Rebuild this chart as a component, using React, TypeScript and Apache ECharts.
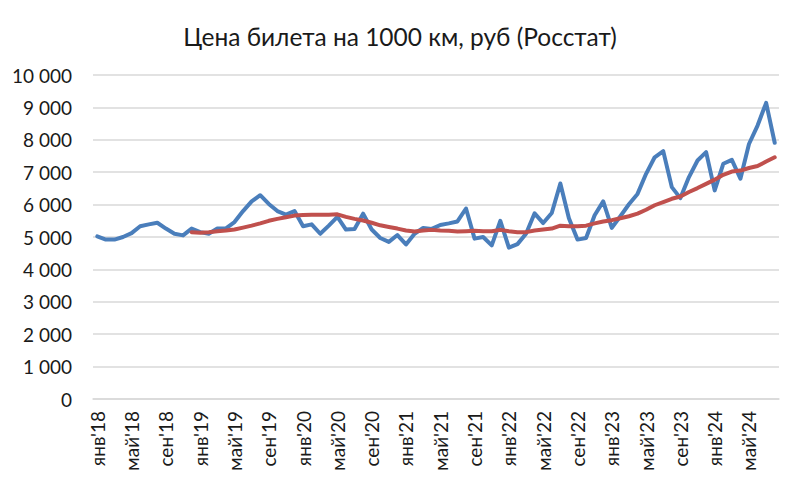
import React, { useEffect, useRef } from "react";
import * as echarts from "echarts";

const monthNames = ["янв", "фев", "мар", "апр", "май", "июн", "июл", "авг", "сен", "окт", "ноя", "дек"];
const years = ["18", "19", "20", "21", "22", "23", "24"];
const monthCount = 80;
const categories: string[] = [];
for (const y of years) for (const m of monthNames) categories.push(`${m}'${y}`);
const cats = categories.slice(0, monthCount);

const priceSeries = [
  5020, 4920, 4920, 5000, 5120, 5330, 5390, 5440, 5260, 5100, 5050, 5260,
  5150, 5100, 5260, 5270, 5460, 5800, 6100, 6290, 6020, 5800, 5690, 5800,
  5330, 5390, 5100, 5350, 5620, 5230, 5250, 5720, 5230, 4970, 4850, 5060,
  4770, 5100, 5280, 5250, 5370, 5420, 5480, 5880, 4950, 5000, 4740, 5500,
  4670, 4780, 5100, 5730, 5430, 5740, 6650, 5580, 4920, 4970, 5670, 6100,
  5280, 5640, 6010, 6330, 6950, 7460, 7650, 6540, 6200, 6850, 7360, 7620,
  6440, 7260, 7380, 6800, 7870, 8440, 9140, 7910,
];

const trendSeries: (number | null)[] = [
  null, null, null, null, null, null, null, null, null, null, null, 5150,
  5130, 5150, 5180, 5200, 5230, 5290, 5350, 5420, 5500, 5560, 5610, 5660,
  5680, 5690, 5690, 5690, 5700, 5620, 5560, 5510, 5440, 5360, 5310, 5260,
  5200, 5170, 5200, 5220, 5200, 5190, 5170, 5180, 5190, 5180, 5180, 5220,
  5180, 5150, 5150, 5200, 5230, 5260, 5350, 5330, 5330, 5350, 5420, 5480,
  5520, 5580, 5640, 5720, 5840, 5980, 6080, 6180, 6250, 6390, 6510, 6640,
  6770, 6920, 7020, 7050, 7130, 7190, 7330, 7460,
];

const yTicks = { min: 0, max: 10000, interval: 1000 };

export default function App() {
  const ref = useRef<HTMLDivElement>(null);
  useEffect(() => {
    if (!ref.current) return;
    const chart = echarts.init(ref.current, undefined, { renderer: "svg" });
    chart.setOption({
      animation: false,
      backgroundColor: "#ffffff",
      title: {
        text: "Цена билета на 1000 км, руб (Росстат)",
        left: "center",
        top: 19,
        textStyle: { fontFamily: "Lato", fontSize: 24.5, fontWeight: "normal", color: "#1a1a1a" },
      },
      grid: { left: 93, right: 21, top: 75, bottom: 91 },
      xAxis: {
        type: "category",
        data: cats,
        boundaryGap: true,
        axisLine: { show: true, lineStyle: { color: "#d9d9d9", width: 1.5 } },
        axisTick: { show: false },
        axisLabel: {
          interval: 3,
          rotate: 90,
          margin: 12,
          fontFamily: "Lato",
          fontSize: 19,
          color: "#1a1a1a",
        },
      },
      yAxis: {
        type: "value",
        min: yTicks.min,
        max: yTicks.max,
        interval: yTicks.interval,
        axisLine: { show: false },
        axisTick: { show: false },
        splitLine: { lineStyle: { color: "#d9d9d9", width: 1.5 } },
        axisLabel: {
          margin: 21,
          fontFamily: "Lato",
          fontSize: 19,
          color: "#1a1a1a",
          formatter: (v: number) => String(v).replace(/\B(?=(\d{3})+(?!\d))/g, " "),
        },
      },
      series: [
        {
          name: "Цена",
          type: "line",
          data: priceSeries,
          symbol: "none",
          lineStyle: { color: "#4a7ebb", width: 4, join: "round", cap: "round" },
          itemStyle: { color: "#4a7ebb" },
        },
        {
          name: "Тренд",
          type: "line",
          data: trendSeries,
          symbol: "none",
          lineStyle: { color: "#c0504d", width: 4, join: "round", cap: "round" },
          itemStyle: { color: "#c0504d" },
        },
      ],
    });
    return () => chart.dispose();
  }, []);
  return (
    <div
      ref={ref}
      style={{ position: "fixed", left: 0, top: 0, width: 800, height: 490 }}
    />
  );
}
